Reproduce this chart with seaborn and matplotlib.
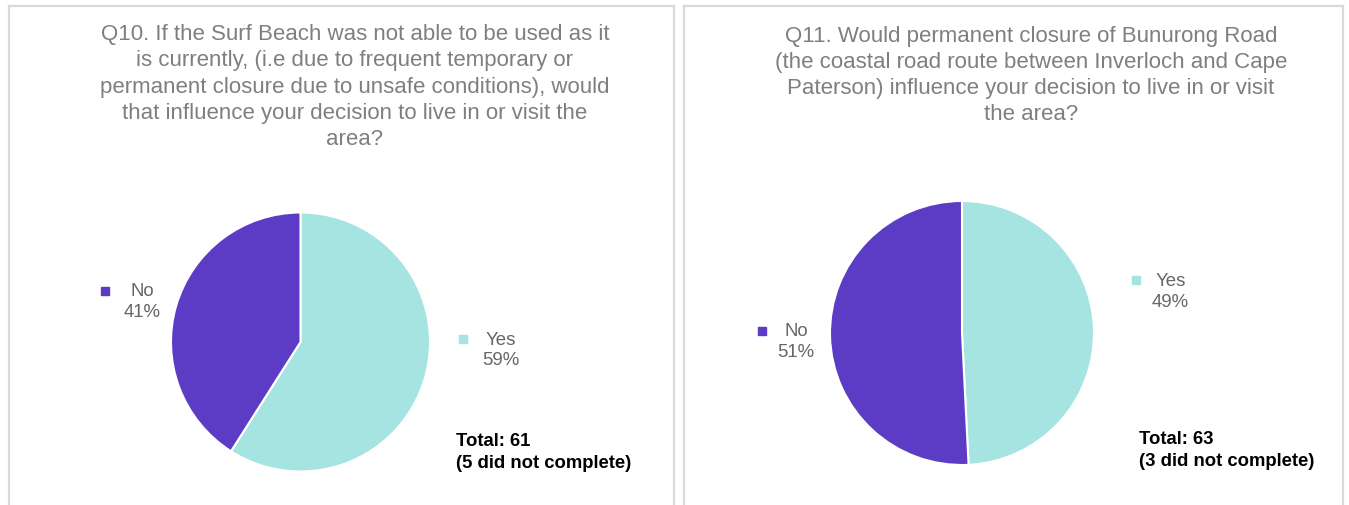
import matplotlib
matplotlib.use("Agg")
import matplotlib.pyplot as plt
import seaborn as sns

# ---- data -------------------------------------------------------------
categories = ["Yes", "No"]
q10_counts = [36, 25]          # 59% / 41% of 61
q11_counts = [31, 32]          # 49% / 51% of 63
q10_pct = ["59%", "41%"]
q11_pct = ["49%", "51%"]
q10_title = ("Q10. If the Surf Beach was not able to be used as it\n"
             "is currently, (i.e due to frequent temporary or\n"
             "permanent closure due to unsafe conditions), would\n"
             "that influence your decision to live in or visit the\n"
             "area?")
q11_title = ("Q11. Would permanent closure of Bunurong Road\n"
             "(the coastal road route between Inverloch and Cape\n"
             "Paterson) influence your decision to live in or visit\n"
             "the area?")
q10_total = "Total: 61\n(5 did not complete)"
q11_total = "Total: 63\n(3 did not complete)"

# ---- style ------------------------------------------------------------
sns.set_theme(style="white")
plt.rcParams["font.family"] = ["Liberation Sans", "DejaVu Sans"]
colors = sns.color_palette(["#A5E4E1", "#5C3CC4"])
TITLE_COLOR = "#7f7f7f"
LABEL_COLOR = "#666666"
BORDER = "#d9d9d9"

W, H = 1349, 506
fig = plt.figure(figsize=(W / 100, H / 100), dpi=100)


def fx(px):
    return px / W


def fy(py):
    return 1 - py / H


def panel(x0, x1, y0):
    ax = fig.add_axes([fx(x0), -0.02, fx(x1 - x0), fy(y0) + 0.02])
    ax.set_xticks([])
    ax.set_yticks([])
    ax.patch.set_alpha(0)
    for s in ax.spines.values():
        s.set_color(BORDER)
        s.set_linewidth(1.6)
    return ax


def pie_panel(cx, cy, r, counts, pcts, label_pos):
    ax = fig.add_axes([fx(cx - r), fy(cy + r), fx(2 * r), (2 * r) / H])
    ax.pie(counts, colors=colors, startangle=90, counterclock=False,
           wedgeprops=dict(edgecolor="white", linewidth=1.5))
    ax.set_xlim(-1, 1)
    ax.set_ylim(-1, 1)
    ax.set_aspect("equal")
    ax.axis("off")
    for cat, pct, col, (mpos, tpos) in zip(categories, pcts, colors, label_pos):
        ax.plot(*mpos, marker="s", ms=5.5, color=col, clip_on=False)
        ax.text(*tpos, f"{cat}\n{pct}", ha="center", va="center",
                multialignment="center", fontsize=13.4, color=LABEL_COLOR,
                linespacing=1.3, clip_on=False)
    return ax


panel(9, 674, 7)
panel(684, 1343, 7)

# label offsets in radius units: (marker, text) for Yes then No
pie_panel(300.5, 343, 129.5, q10_counts, q10_pct,
          [((1.255, 0.023), (1.544, -0.058)),
           ((-1.510, 0.394), (-1.224, 0.317))])
pie_panel(962, 334, 132, q11_counts, q11_pct,
          [((1.318, 0.402), (1.580, 0.318)),
           ((-1.515, 0.015), (-1.258, -0.064))])

fig.text(fx(355), fy(87), q10_title, ha="center", va="center",
         fontsize=16, color=TITLE_COLOR, linespacing=1.33)
fig.text(fx(1031), fy(75.5), q11_title, ha="center", va="center",
         fontsize=16, color=TITLE_COLOR, linespacing=1.33)

fig.text(fx(456), fy(452.5), q10_total, ha="left", va="center",
         fontsize=13.3, fontweight="bold", color="black", linespacing=1.33)
fig.text(fx(1139), fy(450.5), q11_total, ha="left", va="center",
         fontsize=13.3, fontweight="bold", color="black", linespacing=1.33)

fig.savefig("out.png", dpi=100)
